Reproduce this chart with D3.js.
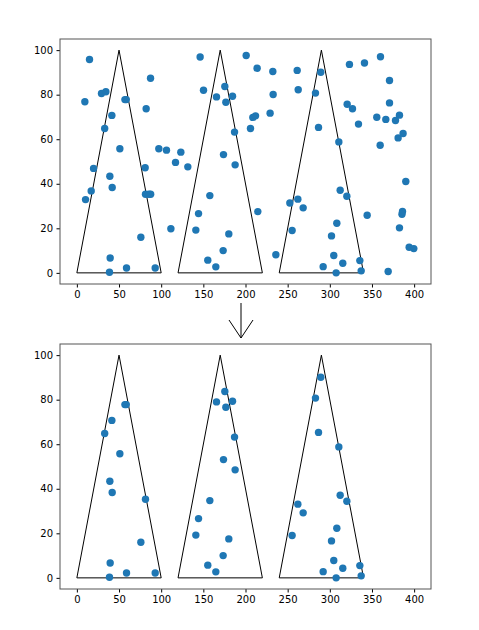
<!DOCTYPE html>
<html>
<head>
<meta charset="utf-8">
<script src="https://d3js.org/d3.v7.min.js"></script>
<style>
  body { margin: 0; background: #fff; }
  text { font-family: "DejaVu Sans", sans-serif; font-size: 10px; fill: #000; }
</style>
</head>
<body>
<script>
// scatter points
const pointX = [15.0, 9.5, 29.2, 34.4, 41.5, 33.0, 57.0, 58.6, 51.0, 19.8, 17.0, 10.3, 39.1, 41.9, 39.5, 38.7, 58.9, 92.9, 75.9, 81.4, 85.5, 87.5, 81.0, 82.2, 87.4, 97.2, 106.3, 117.0, 123.3, 131.6, 111.5,
  146.2, 150.2, 165.6, 175.5, 176.7, 184.6, 187.0, 173.9, 187.7, 157.7, 144.3, 141.1, 180.2, 173.5, 155.3, 164.8,
  200.8, 213.8, 232.4, 232.8, 208.7, 211.9, 205.9, 229.2, 214.6, 236.0,
  261.3, 262.5, 283.0, 289.3, 286.6, 310.7, 252.6, 262.1, 268.4, 255.3, 312.3, 320.2, 308.3, 302.0, 304.7, 315.4, 292.1, 307.5, 335.6, 337.2,
  323.3, 341.1, 360.1, 370.8, 320.6, 326.9, 334.0, 355.7, 366.4, 370.8, 377.9, 382.6, 381.0, 386.9, 359.7, 390.1, 344.3, 386.2, 385.6, 382.6, 394.1, 399.6, 369.2];
const pointY = [95.8, 76.8, 80.5, 81.3, 70.7, 64.8, 77.8, 77.8, 55.7, 46.9, 36.8, 32.9, 43.4, 38.3, 6.7, 0.3, 2.2, 2.2, 16.0, 35.3, 35.3, 35.3, 47.2, 73.7, 87.4, 55.7, 55.1, 49.6, 54.2, 47.6, 19.8,
  96.9, 82.0, 79.0, 83.7, 76.6, 79.3, 63.2, 53.1, 48.5, 34.7, 26.6, 19.2, 17.5, 10.0, 5.7, 2.7,
  97.6, 91.9, 90.4, 80.1, 69.8, 70.5, 64.8, 71.7, 27.5, 8.1,
  90.9, 82.2, 80.7, 90.1, 65.3, 58.8, 31.4, 33.1, 29.2, 19.0, 37.1, 34.4, 22.3, 16.6, 7.8, 4.3, 2.8, 0.0, 5.5, 0.9,
  93.6, 94.2, 97.0, 86.4, 75.7, 73.7, 66.8, 69.9, 68.9, 76.3, 68.4, 70.8, 60.6, 62.6, 57.3, 41.0, 25.9, 27.6, 26.3, 20.2, 11.5, 10.9, 0.6];
// 1 = point survives the triangle selection (bottom panel)
const keep = [0, 0, 0, 0, 1, 1, 1, 1, 1, 0, 0, 0, 1, 1, 1, 1, 1, 1, 1, 1, 0, 0, 0, 0, 0, 0, 0, 0, 0, 0, 0,
  0, 0, 1, 1, 1, 1, 1, 1, 1, 1, 1, 1, 1, 1, 1, 1,
  0, 0, 0, 0, 0, 0, 0, 0, 0, 0,
  0, 0, 1, 1, 1, 1, 0, 1, 1, 1, 1, 1, 1, 1, 1, 1, 1, 1, 1, 1,
  0, 0, 0, 0, 0, 0, 0, 0, 0, 0, 0, 0, 0, 0, 0, 0, 0, 0, 0, 0, 0, 0, 0];

// triangles: left corner, apex, right corner
const triLeft = [0, 120, 240];
const triApex = [50, 170, 290];
const triRight = [100, 220, 340];
const triHeight = 100;

const xTicks = [0, 50, 100, 150, 200, 250, 300, 350, 400];
const yTicks = [0, 20, 40, 60, 80, 100];

// figure size
const width = 479;
const height = 630;

const svg = d3.select("body")
  .append("svg")
  .attr("width", width)
  .attr("height", height);

const x = d3.scaleLinear().domain([-20, 420]).range([60, 431]);

const points = pointX.map((d, i) => ({ x: d, y: pointY[i], keep: keep[i] }));

function drawPanel(top, bottom, data) {
  const y = d3.scaleLinear().domain([-5, 105]).range([bottom, top]);
  const g = svg.append("g");

  // triangles
  const line = d3.line().x(d => x(d[0])).y(d => y(d[1]));
  triLeft.forEach(function (l, i) {
    g.append("path")
      .attr("d", line([[l, 0], [triApex[i], triHeight], [triRight[i], 0], [l, 0]]))
      .attr("fill", "none")
      .attr("stroke", "#000")
      .attr("stroke-width", 1);
  });

  // points
  g.selectAll("circle")
    .data(data)
    .enter()
    .append("circle")
    .attr("cx", d => x(d.x))
    .attr("cy", d => y(d.y))
    .attr("r", 3.7)
    .attr("fill", "#1f77b4");

  // axes
  g.append("g")
    .attr("transform", `translate(0,${bottom})`)
    .call(d3.axisBottom(x).tickValues(xTicks).tickSize(3.5).tickPadding(3.5).tickFormat(d3.format("d")))
    .call(a => a.select(".domain").remove())
    .call(a => a.selectAll("text").style("font-size", "10px").style("font-family", "DejaVu Sans"));

  g.append("g")
    .attr("transform", "translate(60,0)")
    .call(d3.axisLeft(y).tickValues(yTicks).tickSize(3.5).tickPadding(3.5).tickFormat(d3.format("d")))
    .call(a => a.select(".domain").remove())
    .call(a => a.selectAll("text").style("font-size", "10px").style("font-family", "DejaVu Sans"));

  // frame
  g.append("rect")
    .attr("x", 60)
    .attr("y", top)
    .attr("width", 371)
    .attr("height", bottom - top)
    .attr("fill", "none")
    .attr("stroke", "#555")
    .attr("stroke-width", 1);
}

drawPanel(39, 284, points);
drawPanel(344, 589, points.filter(d => d.keep));

// arrow between panels
svg.append("path")
  .attr("d", "M241,303 L241,338 M229,320 L241,338 L253,320")
  .attr("fill", "none")
  .attr("stroke", "#000")
  .attr("stroke-width", 1);
</script>
</body>
</html>
